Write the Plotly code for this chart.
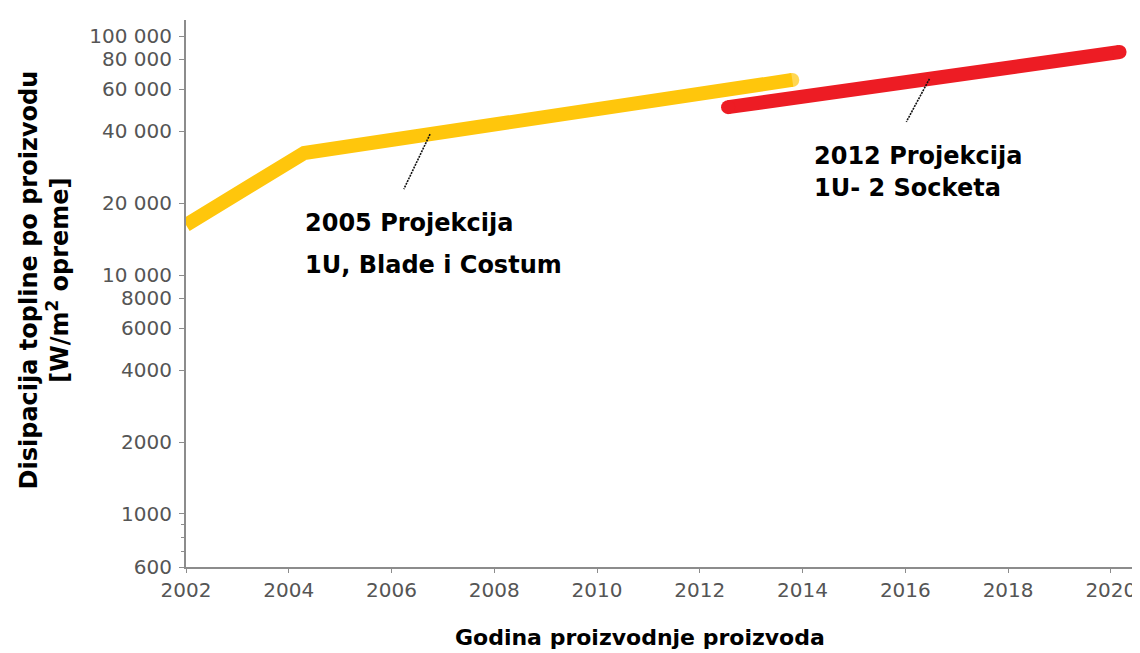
import math
import plotly.graph_objects as go

# ── Data ─────────────────────────────────────────────────────────────────────
years_2005 = [2002, 2004.3, 2013.8]
heat_2005 = [16200, 32400, 65500]

years_2012 = [2012.55, 2020.17]
heat_2012 = [50400, 85700]

y_tickvals = [600, 1000, 2000, 4000, 6000, 8000, 10000, 20000, 40000, 60000, 80000, 100000]
y_ticktext = ["600", "1000", "2000", "4000", "6000", "8000",
              "10 000", "20 000", "40 000", "60 000", "80 000", "100 000"]
x_tickvals = list(range(2002, 2021, 2))

# ── Colors / layout constants ───────────────────────────────────────────────
YELLOW = "#FFC60C"
RED = "#ED1C24"
AXIS_COLOR = "#8C8C8C"
TICK_COLOR = "#555555"
FONT = "DejaVu Sans"

X_RANGE = [2002, 2020.47]
Y_RANGE = [math.log10(600), 5.067]

# the page body adds an 8px margin, so the figure is 8px smaller each way
PAGE_PAD = 8


def log_at(xs, ys, x):
    """Log10 of a series at year x (callout anchor on the line)."""
    for i in range(len(xs) - 1):
        if xs[i] <= x <= xs[i + 1]:
            t = (x - xs[i]) / (xs[i + 1] - xs[i])
            return math.log10(ys[i]) + t * (math.log10(ys[i + 1]) - math.log10(ys[i]))
    return math.log10(ys[-1])


def to_paper(logv):
    return (logv - Y_RANGE[0]) / (Y_RANGE[1] - Y_RANGE[0])


fig = go.Figure()

fig.add_trace(go.Scatter(
    x=years_2005, y=heat_2005, mode="lines+markers",
    line=dict(color=YELLOW, width=14),
    marker=dict(color=YELLOW, size=[0, 0, 14], line=dict(width=0)),
    showlegend=False, hoverinfo="skip",
))
fig.add_trace(go.Scatter(
    x=years_2012, y=heat_2012, mode="lines+markers",
    line=dict(color=RED, width=14),
    marker=dict(color=RED, size=14, line=dict(width=0)),
    showlegend=False, hoverinfo="skip",
))

# ── Callout leader lines (year at tip, year at foot, drop in log units) ─────
leaders = [
    (years_2005, heat_2005, 2006.75, 2006.24, 0.23),
    (years_2012, heat_2012, 2016.47, 2016.02, 0.18),
]
for xs, ys, x_tip, x_foot, drop in leaders:
    tip = log_at(xs, ys, x_tip)
    fig.add_shape(
        type="line", xref="x", yref="paper",
        x0=x_tip, y0=to_paper(tip), x1=x_foot, y1=to_paper(tip - drop),
        line=dict(color="#111111", width=1.6, dash="2px,1px"),
    )

callout_font = dict(family=FONT, size=24, color="black")
annotations = [
    dict(x=2004.28, y=4.218, xref="x", yref="y", text="<b>2005 Projekcija</b>",
         xanchor="left", yanchor="middle", showarrow=False, font=callout_font),
    dict(x=2004.28, y=4.042, xref="x", yref="y", text="<b>1U, Blade i Costum</b>",
         xanchor="left", yanchor="middle", showarrow=False, font=callout_font),
    dict(x=2014.18, y=4.498, xref="x", yref="y", text="<b>2012 Projekcija</b>",
         xanchor="left", yanchor="middle", showarrow=False, font=callout_font),
    dict(x=2014.18, y=4.364, xref="x", yref="y", text="<b>1U- 2 Socketa</b>",
         xanchor="left", yanchor="middle", showarrow=False, font=callout_font),
    # axis titles
    dict(x=0.478, y=-0.128, xref="paper", yref="paper",
         text="<b>Godina proizvodnje proizvoda</b>",
         xanchor="center", yanchor="middle", showarrow=False,
         font=dict(family=FONT, size=22, color="black")),
    dict(x=-0.149, y=0.525, xref="paper", yref="paper",
         text="<b>Disipacija topline po proizvodu<br>[W/m<sup>2</sup> opreme]</b>",
         textangle=-90, xanchor="center", yanchor="middle", showarrow=False,
         font=dict(family=FONT, size=24, color="black")),
]

fig.update_layout(
    width=1140 - PAGE_PAD, height=653 - PAGE_PAD,
    paper_bgcolor="white", plot_bgcolor="white",
    margin=dict(l=186 - PAGE_PAD, r=5, t=20 - PAGE_PAD, b=86),
    font=dict(family=FONT, color=TICK_COLOR),
    annotations=annotations,
    xaxis=dict(
        range=X_RANGE, automargin=False,
        tickvals=x_tickvals,
        showgrid=False, zeroline=False,
        showline=True, linecolor=AXIS_COLOR, linewidth=2,
        ticks="outside", ticklen=4, tickcolor=AXIS_COLOR,
        tickfont=dict(size=20, color=TICK_COLOR),
    ),
    yaxis=dict(
        type="log", automargin=False,
        range=Y_RANGE,
        tickvals=y_tickvals, ticktext=y_ticktext,
        showgrid=False, zeroline=False,
        showline=True, linecolor=AXIS_COLOR, linewidth=2,
        ticks="outside", ticklen=5, tickcolor=AXIS_COLOR,
        ticklabelstandoff=3,
        tickfont=dict(size=20, color=TICK_COLOR),
        minor=dict(tickvals=[700, 800, 900], ticks="outside", ticklen=3,
                   tickcolor=AXIS_COLOR, showgrid=False),
    ),
)

fig.write_html("out.html")
